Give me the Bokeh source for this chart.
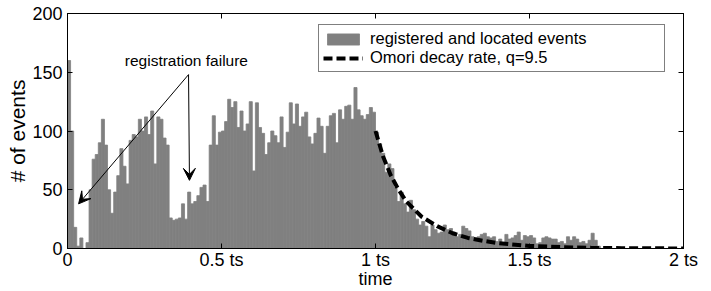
import numpy as np
from bokeh.plotting import figure
from bokeh.models import (Range1d, LinearAxis, FixedTicker, Label, Arrow, VeeHead,
                          Legend, LegendItem, ColumnDataSource)
from bokeh.embed import file_html
from bokeh.resources import INLINE

# ---------------- data ----------------
bin_width = 0.01  # in units of ts
counts = [
    160, 100, 18, 2, 9, 0, 5, 50, 76, 80,
    90, 110, 88, 50, 30, 48, 62, 85, 70, 55,
    92, 97, 95, 110, 100, 112, 97, 117, 72, 112,
    110, 94, 88, 26, 24, 25, 26, 38, 25, 48,
    38, 40, 45, 52, 54, 40, 88, 113, 88, 99,
    100, 108, 127, 120, 125, 103, 117, 100, 106, 125,
    66, 124, 103, 98, 80, 90, 100, 96, 90, 112,
    86, 99, 124, 106, 123, 104, 112, 116, 95, 89,
    98, 111, 104, 81, 104, 113, 115, 90, 118, 110,
    121, 122, 110, 137, 118, 113, 110, 114, 120, 116,
    99, 89, 81, 65, 72, 68, 52, 40, 48, 38,
    31, 41, 33, 25, 20, 23, 19, 10, 20, 16,
    13, 14, 20, 16, 17, 14, 10, 12, 19, 17,
    15, 10, 9, 10, 12, 13, 10, 9, 10, 6,
    8, 5, 12, 8, 9, 11, 14, 7, 11, 10,
    11, 9, 4, 5, 9, 10, 9, 8, 8, 5,
    6, 4, 10, 7, 10, 8, 5, 6, 4, 7,
    13, 7, 2,
]

omori_t = [1.0, 1.025, 1.05, 1.075, 1.1, 1.15, 1.2, 1.25, 1.3, 1.35, 1.4,
           1.5, 1.6, 1.7, 1.8, 1.9, 2.0]
omori_rate = [100, 78, 62, 50, 40, 27, 19, 13, 9, 6.5, 4.5,
              2.2, 1.2, 0.6, 0.3, 0.15, 0.05]

x_tick_values = [0, 0.5, 1, 1.5, 2]
x_tick_labels = ["0", "0.5 ts", "1 ts", "1.5 ts", "2 ts"]
y_tick_values = [0, 50, 100, 150, 200]

x_title = "time"
y_title = "# of events"
legend_labels = ["registered and located events", "Omori decay rate, q=9.5"]
annotation_text = "registration failure"
annot_text_pos = (0.386, 160)
annot_arrow_start = (0.393, 148)
annot_arrow_ends = [(0.036, 38), (0.396, 58)]

FONT = "Liberation Sans"

# ---------------- figure ----------------
p = figure(width=711, height=291, output_backend="svg", toolbar_location=None,
           x_range=Range1d(0, 2), y_range=Range1d(0, 200),
           min_border_left=67, min_border_right=28, min_border_top=13,
           min_border_bottom=43)
p.background_fill_color = "white"
p.border_fill_color = "white"
p.grid.visible = False
p.outline_line_color = "black"
p.outline_line_width = 1

centers = [(i + 0.5) * bin_width for i in range(len(counts))]
src = ColumnDataSource(dict(x=centers, top=counts))
bars = p.vbar(x="x", top="top", width=bin_width, bottom=0, source=src,
              fill_color="#808080", line_color="#808080", line_width=0.8)

line = p.line(omori_t, omori_rate, line_color="black", line_width=4,
              line_dash="9 4")

# axes styling
def style_axis(ax, show_labels=True):
    ax.major_tick_in = 5
    ax.major_tick_out = 0
    ax.minor_tick_line_color = None
    ax.axis_line_color = "black"
    ax.major_tick_line_color = "black"
    if show_labels:
        ax.major_label_text_font = FONT
        ax.major_label_text_font_size = "18px"
        ax.major_label_text_color = "black"
        ax.major_label_standoff = 5
        ax.axis_label_text_font = FONT
        ax.axis_label_text_font_size = "18px"
        ax.axis_label_text_font_style = "normal"
        ax.axis_label_text_color = "black"
    else:
        ax.major_label_text_font_size = "0px"
        ax.major_label_standoff = 0

xax = p.xaxis[0]
xax.ticker = FixedTicker(ticks=x_tick_values)
xax.major_label_overrides = {k: v for k, v in zip(x_tick_values, x_tick_labels)}
style_axis(xax)
xax.axis_label = x_title
xax.major_label_standoff = 1
xax.axis_label_standoff = -4

yax = p.yaxis[0]
yax.ticker = FixedTicker(ticks=y_tick_values)
style_axis(yax)
yax.axis_label = y_title
yax.axis_label_text_font_size = "21px"
yax.axis_label_standoff = 0

top_ax = LinearAxis(ticker=FixedTicker(ticks=x_tick_values))
style_axis(top_ax, show_labels=False)
p.add_layout(top_ax, "above")
right_ax = LinearAxis(ticker=FixedTicker(ticks=y_tick_values))
style_axis(right_ax, show_labels=False)
p.add_layout(right_ax, "right")

# annotation
p.add_layout(Label(x=annot_text_pos[0], y=annot_text_pos[1], text=annotation_text,
                   text_font=FONT, text_font_size="15.5px", text_align="center",
                   text_baseline="middle", text_color="black"))
for (xe, ye) in annot_arrow_ends:
    p.add_layout(Arrow(end=VeeHead(size=12, fill_color="black", line_color="black"),
                       x_start=annot_arrow_start[0], y_start=annot_arrow_start[1],
                       x_end=xe, y_end=ye, line_color="black", line_width=1))

legend = Legend(items=[LegendItem(label=legend_labels[0], renderers=[bars]),
                       LegendItem(label=legend_labels[1], renderers=[line])],
                location=(251, 176))
legend.border_line_color = "black"
legend.border_line_width = 1
legend.background_fill_color = "white"
legend.background_fill_alpha = 1
legend.glyph_width = 40
legend.glyph_height = 14
legend.label_standoff = 7
legend.label_width = 290
legend.padding = 4
legend.spacing = 0
legend.margin = 0
legend.label_text_font = FONT
legend.label_text_font_size = "16.5px"
legend.label_text_color = "black"
p.add_layout(legend)

open("out.html", "w").write(file_html(p, INLINE))
